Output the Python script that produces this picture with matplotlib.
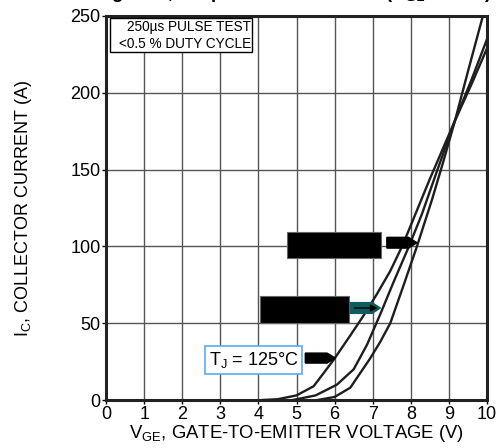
import numpy as np
import matplotlib.pyplot as plt
from matplotlib.patches import Polygon, Rectangle

plt.rcParams['font.family'] = ['Liberation Sans', 'DejaVu Sans']

# Transfer curves (V_GE in V, I_C in A)
vge_hot = [4.1, 4.5, 5.0, 5.45, 5.97, 6.41, 6.76, 7.11, 7.46, 7.77, 8.07, 8.5, 9.16, 9.6, 10.0]
ic_hot = [0, 0.5, 3, 9, 26, 42, 55, 69, 84, 100, 118, 144, 182, 206, 229]

vge_room = [4.9, 5.5, 6.06, 6.5, 6.85, 7.2, 7.55, 7.95, 8.29, 8.7, 9.16, 9.6, 10.0]
ic_room = [0, 3, 10, 20, 36, 56, 77, 100, 121, 150, 182, 209, 235]

vge_cold = [5.55, 6.0, 6.41, 6.93, 7.2, 7.46, 7.8, 8.16, 8.55, 8.85, 9.16, 9.5, 9.89]
ic_cold = [0, 2, 8, 27, 38, 50, 74, 100, 130, 155, 182, 214, 250]

x_ticks = list(range(0, 11))
y_ticks = [0, 50, 100, 150, 200, 250]

fig = plt.figure(figsize=(4.98, 4.48), dpi=100)
ax = fig.add_axes([0.2129, 0.1071, 0.7651, 0.8572])

ax.set_xlim(0, 10)
ax.set_ylim(0, 250)
ax.set_xticks(x_ticks)
ax.set_yticks(y_ticks)
ax.grid(True, color='#555555', linewidth=1.0)
ax.set_axisbelow(True)
for s in ax.spines.values():
    s.set_linewidth(2.2)
    s.set_color('#222222')
ax.tick_params(direction='out', length=3, width=1, pad=1, labelsize=13)

for xs, ys in [(vge_hot, ic_hot), (vge_room, ic_room), (vge_cold, ic_cold)]:
    ax.plot(xs, ys, color='#1e1e1e', linewidth=1.7, clip_on=True, zorder=3)

# pulse test box
ax.add_patch(Rectangle((0.1, 226.6), 3.73, 22.1, facecolor='white', edgecolor='black', linewidth=1, zorder=4))
ax.text(3.8, 243.0, '250µs PULSE TEST', ha='right', va='center', fontsize=9.8, zorder=5)
ax.text(3.8, 232.0, '<0.5 % DUTY CYCLE', ha='right', va='center', fontsize=9.8, zorder=5)


def tag_arrow(x0, x1, y, h, color):
    tip = 0.22
    pts = [(x0, y - h / 2), (x1 - tip, y - h / 2), (x1, y), (x1 - tip, y + h / 2), (x0, y + h / 2)]
    ax.add_patch(Polygon(pts, closed=True, facecolor=color, edgecolor=color, zorder=5))


# redacted labels
ax.add_patch(Rectangle((4.75, 92.2), 2.47, 17.4, facecolor='black', edgecolor='#666666', linewidth=0.8, zorder=5))
tag_arrow(7.37, 8.16, 102.4, 7.0, 'black')

ax.add_patch(Rectangle((4.04, 50.0), 2.33, 17.7, facecolor='black', edgecolor='#666666', linewidth=0.8, zorder=5))
tag_arrow(6.41, 7.2, 59.9, 7.0, '#0f5c5c')
ax.annotate('', xy=(7.2, 59.9), xytext=(6.45, 59.9),
            arrowprops=dict(arrowstyle='-|>', color='black', lw=1.0, mutation_scale=10), zorder=6)

ax.text(2.7, 26.0, r'T$_\mathregular{J}$ = 125°C', fontsize=13, ha='left', va='center',
        bbox=dict(boxstyle='square,pad=0.2', facecolor='white', edgecolor='#5aaaf0', linewidth=1.2), zorder=6)
tag_arrow(5.23, 6.02, 27.3, 6.5, 'black')

ax.set_xlabel(r'V$_\mathregular{GE}$, GATE-TO-EMITTER VOLTAGE (V)', fontsize=13.3, labelpad=0.5)
ax.set_ylabel(r'I$_\mathregular{C}$, COLLECTOR CURRENT (A)', fontsize=13, labelpad=26)

# title, mostly cut off by the top edge in the reference
fig.text(0.988, 1.0045, r'Figure 5, Output Characteristics (V$_\mathbf{GE}$ = 15 V)',
         ha='right', va='baseline', fontsize=13.5, fontweight='bold')

fig.savefig('out.png', dpi=100)
